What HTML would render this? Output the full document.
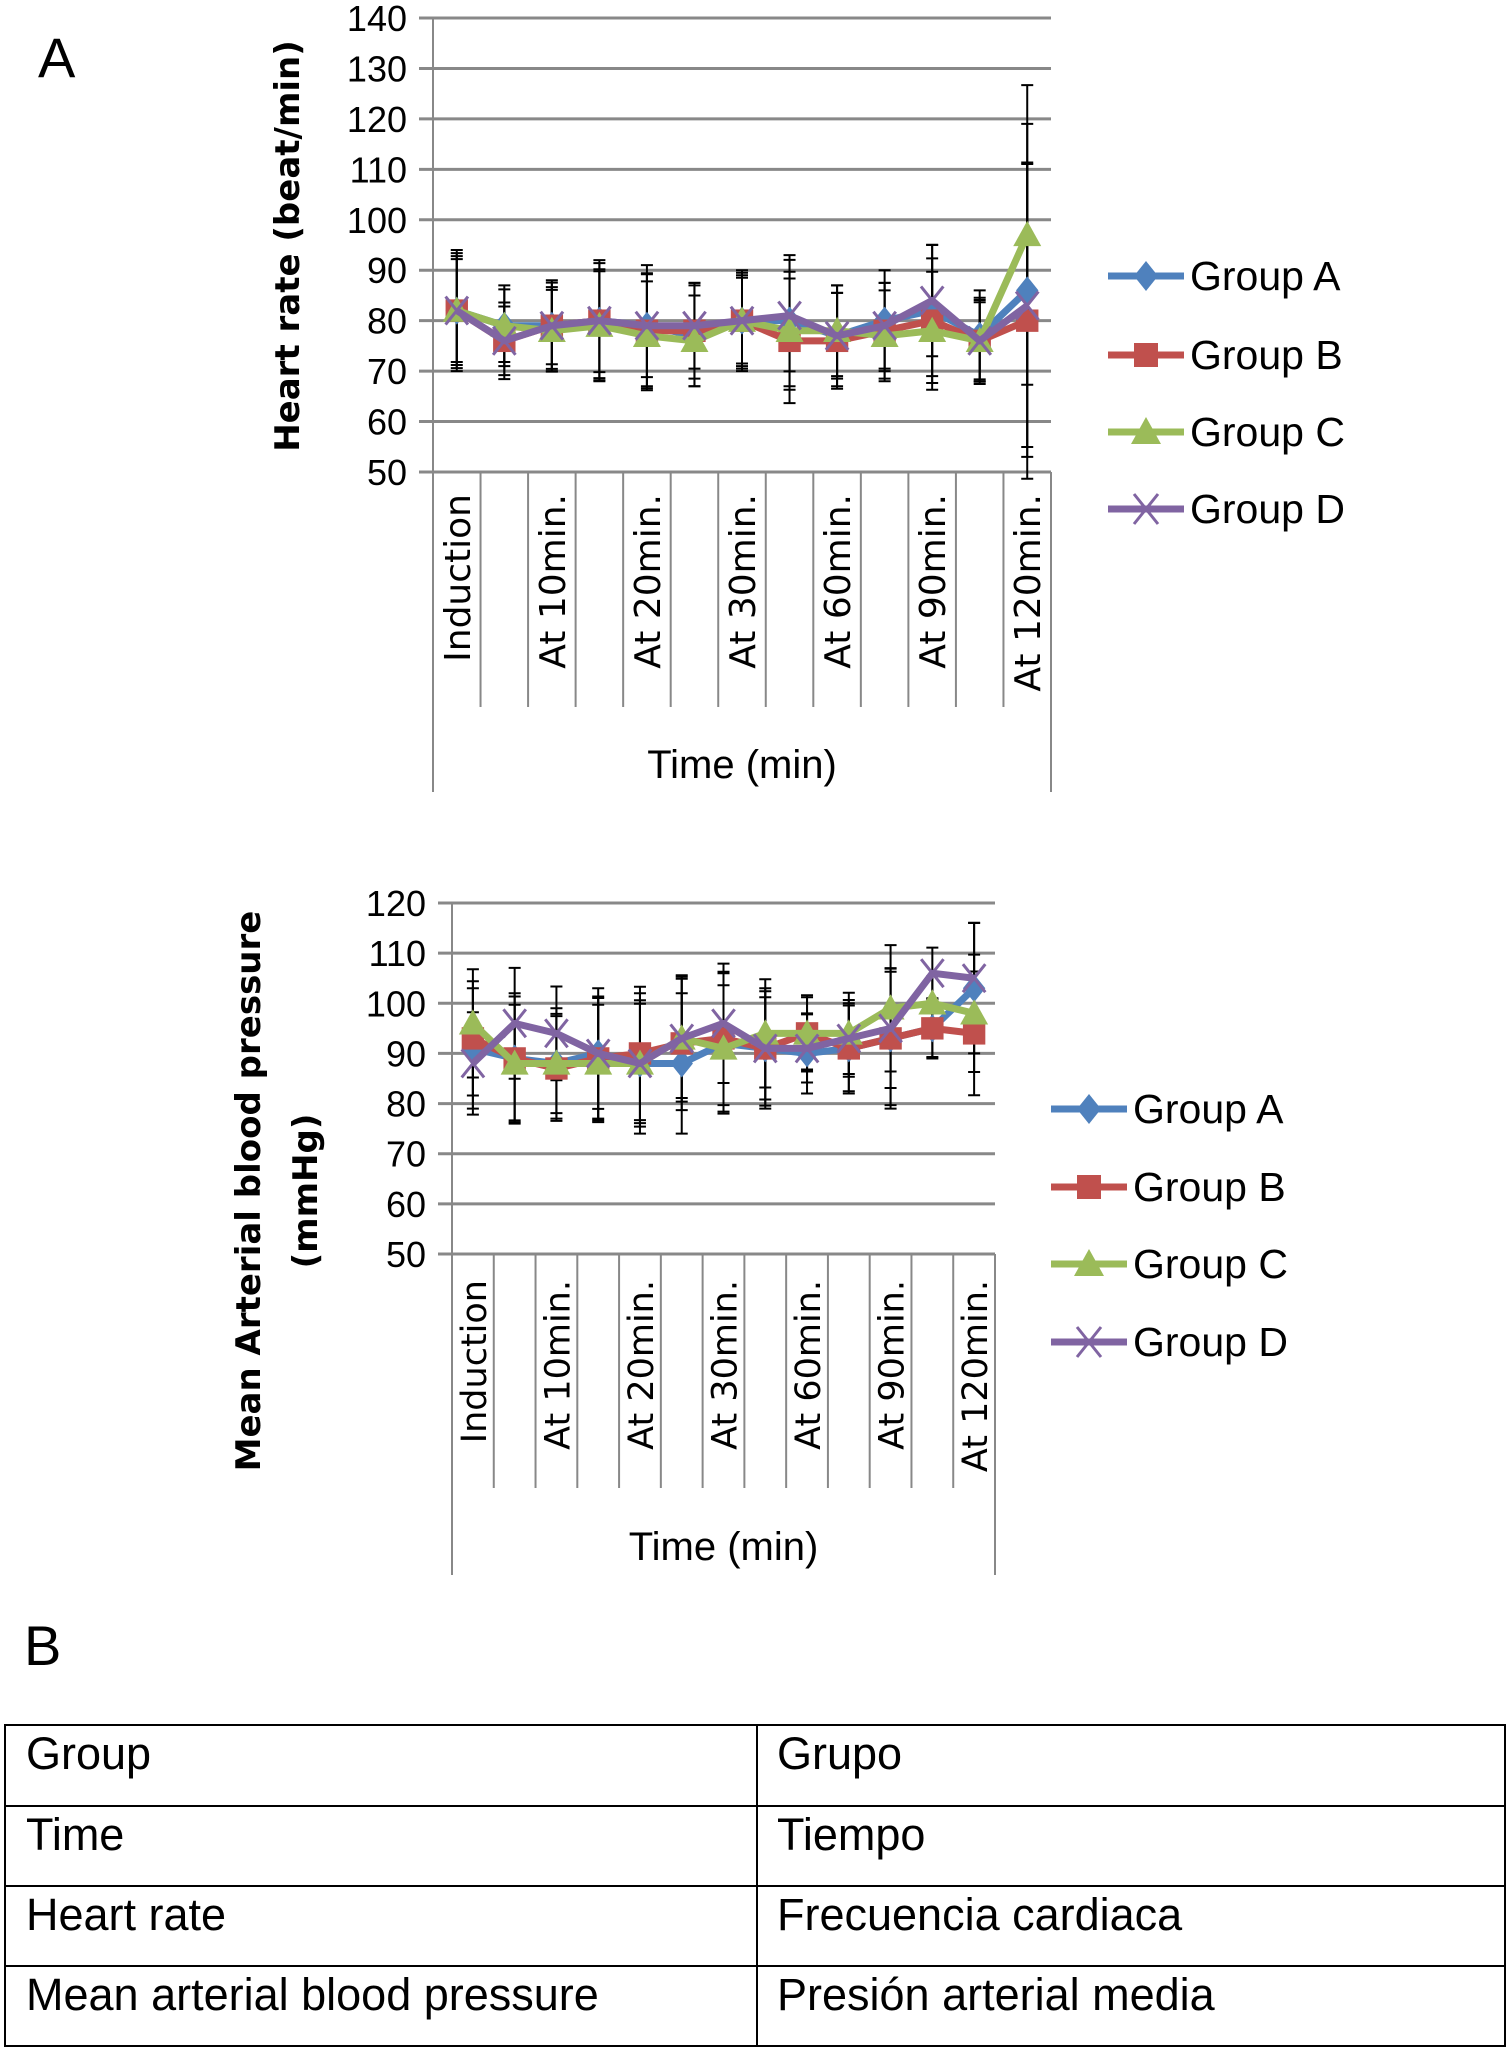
<!DOCTYPE html>
<html><head><meta charset="utf-8">
<style>
body{margin:0;background:#fff;width:1508px;height:2049px;overflow:hidden;font-family:"Liberation Sans",sans-serif}
svg{position:absolute;left:0;top:0}
</style></head><body>
<svg id="s" width="1508" height="2049" viewBox="0 0 1508 2049"></svg>
<script>
const categories=["Induction","","At 10min.","","At 20min.","","At 30min.","","At 60min.","","At 90min.","","At 120min."];
const groups=["Group A","Group B","Group C","Group D"];
const colors=["#4f81bd","#c0504d","#9bbb59","#8064a2"];
const hrA=[82,79,79,80,79,77,80,80,77,80,82,77,86];
const hrB=[82,76,79,80,78,78,80,76,76,78,80,76,80];
const hrC=[82,79,78,79,77,76,80,78,78,77,78,76,97];
const hrD=[82,76,79,80,79,79,80,81,77,79,84,76,83];
const hrErr=[12,8,9,12,12,10,10,13,10,10,13,9,33];
const mapA=[91,89,88,90,88,88,92,91,90,91,93,95,103];
const mapB=[93,89,87,89,90,92,93,91,94,91,93,95,94];
const mapC=[96,88,88,88,88,93,91,94,94,94,99,100,98];
const mapD=[88,96,94,90,88,93,96,91,91,93,95,106,105];
const mapErr=[12,13,11,13,14,14,14,12,8,9,14,6,13];
const hrTicks=[50,60,70,80,90,100,110,120,130,140];
const mapTicks=[50,60,70,80,90,100,110,120];
const NS="http://www.w3.org/2000/svg";
const S=document.getElementById('s');
function mk(t,a,p){const e=document.createElementNS(NS,t);for(const k in a)e.setAttribute(k,a[k]);(p||S).appendChild(e);return e;}
function txt(x,y,s,a,p){const e=mk('text',Object.assign({x:x,y:y},a),p);e.textContent=s;return e;}
function marker(g,i,x,y,c,sz){
 if(i==0){const m=mk('polygon',{points:`${x},${y-sz} ${x+sz*0.8},${y} ${x},${y+sz} ${x-sz*0.8},${y}`,fill:c},g);}
 else if(i==1){const m=mk('rect',{x:x-sz*0.8,y:y-sz*0.8,width:sz*1.6,height:sz*1.6,fill:c},g);}
 else if(i==2){const m=mk('polygon',{points:`${x},${y-sz} ${x+sz},${y+sz*0.8} ${x-sz},${y+sz*0.8}`,fill:c},g);}
 else{const m=mk('path',{d:`M${x-sz*0.8} ${y-sz}L${x+sz*0.8} ${y+sz}M${x+sz*0.8} ${y-sz}L${x-sz*0.8} ${y+sz}`,stroke:c,'stroke-width':3},g);}
}
function chart(o){
 const g=mk('g',{});
 const n=categories.length, sw=(o.R-o.L)/n;
 const yS=v=>o.B-(v-o.min)/(o.max-o.min)*(o.B-o.T);
 const xS=i=>o.L+sw*(i+0.5);
 o.ticks.forEach(t=>{const y=yS(t);
  const l=mk('line',{x1:o.L-14,x2:o.R,y1:y,y2:y,stroke:'#888','stroke-width':3},g);
  const tl=txt(o.L-26,y+13,t,{'text-anchor':'end','font-size':36,'font-family':'"Liberation Sans Narrow","Liberation Sans",sans-serif'},g);});
 for(let i=0;i<=n;i++){const x=o.L+sw*i;const end=(i==0||i==n)?o.axB:o.divB;
  const l=mk('line',{x1:x,x2:x,y1:(i==0?o.T:o.B),y2:end,stroke:'#888','stroke-width':2},g);}
 categories.forEach((c,i)=>{if(!c)return;const x=xS(i)+13,y=o.B+o.coff;
  const t=txt(0,0,c,{'text-anchor':'end','font-size':o.cfs,'font-family':'"DejaVu Sans",sans-serif',transform:`translate(${x},${y}) rotate(-90)`},g);});
 const xt=txt((o.L+o.R)/2,o.xtY,'Time (min)',{'text-anchor':'middle','font-size':40,'font-family':'"Liberation Sans Narrow","Liberation Sans",sans-serif'},g);
 o.ytitle.forEach((s,k)=>{const t=txt(0,0,s,{'text-anchor':'middle','font-size':o.yfs,'font-weight':'bold','font-family':'"DejaVu Sans",sans-serif',transform:`translate(${o.ytX[k]},${o.ytY}) rotate(-90)`},g);});
 o.series.forEach((d,si)=>{d.forEach((v,i)=>{const x=xS(i),e=o.err[i]*(1-si*0.05);
  const eb=mk('path',{d:`M${x} ${yS(v-e)}V${yS(v+e)}M${x-6} ${yS(v-e)}H${x+6}M${x-6} ${yS(v+e)}H${x+6}`,stroke:'#000','stroke-width':2,fill:'none'},g);});});
 o.series.forEach((d,si)=>{const sg=mk('g',{},g);
  const pl=mk('polyline',{points:d.map((v,i)=>xS(i)+','+yS(v)).join(' '),fill:'none',stroke:colors[si],'stroke-width':7,'stroke-linejoin':'round'},sg);
  d.forEach((v,i)=>marker(sg,si,xS(i),yS(v),colors[si],14));});
 groups.forEach((gn,si)=>{const y=o.legY[si];const lg=mk('g',{},g);
  mk('line',{x1:o.legX,x2:o.legX+76,y1:y,y2:y,stroke:colors[si],'stroke-width':7},lg);
  marker(lg,si,o.legX+38,y,colors[si],15);
  txt(o.legX+82,y+14,gn,{'font-size':41,'font-family':'"Liberation Sans Narrow","Liberation Sans",sans-serif'},lg);});
}
chart({name:'heart-rate-chart',L:433,R:1051,T:18,B:472,divB:707,axB:792,min:50,max:140,ticks:hrTicks,series:[hrA,hrB,hrC,hrD],err:hrErr,cfs:36,coff:22,xtY:778,ytitle:['Heart rate (beat/min)'],ytX:[299],ytY:246,yfs:34,legX:1108,legY:[276,355,432,509]});
chart({name:'map-chart',L:452,R:995,T:903,B:1254,divB:1488,axB:1575,min:50,max:120,ticks:mapTicks,series:[mapA,mapB,mapC,mapD],err:mapErr,cfs:35,coff:26,xtY:1560,ytitle:['Mean Arterial blood pressure','(mmHg)'],ytX:[260,317],ytY:1191,yfs:34,legX:1051,legY:[1109,1187,1264,1342]});
const a=txt(38,77,'A',{'font-size':56,'font-family':'"Liberation Sans Narrow","Liberation Sans",sans-serif'});
const b=txt(24,1665,'B',{'font-size':56,'font-family':'"Liberation Sans Narrow","Liberation Sans",sans-serif'});
const rows=[["Group","Grupo"],["Time","Tiempo"],["Heart rate","Frecuencia cardiaca"],["Mean arterial blood pressure","Presión arterial media"]];
const tg=mk('g',{});
const ys=[1725,1806,1886,1966,2046];
mk('rect',{x:5,y:1725,width:1500,height:321,fill:'none',stroke:'#000','stroke-width':2},tg);
ys.slice(1,4).forEach(y=>mk('line',{x1:5,x2:1505,y1:y,y2:y,stroke:'#000','stroke-width':2},tg));
mk('line',{x1:757,x2:757,y1:1725,y2:2046,stroke:'#000','stroke-width':2},tg);
rows.forEach((r,i)=>{const c1=txt(26,ys[i]+44,r[0],{'font-size':45},tg);
 const c2=txt(777,ys[i]+44,r[1],{'font-size':45},tg);});
</script>
</body></html>
